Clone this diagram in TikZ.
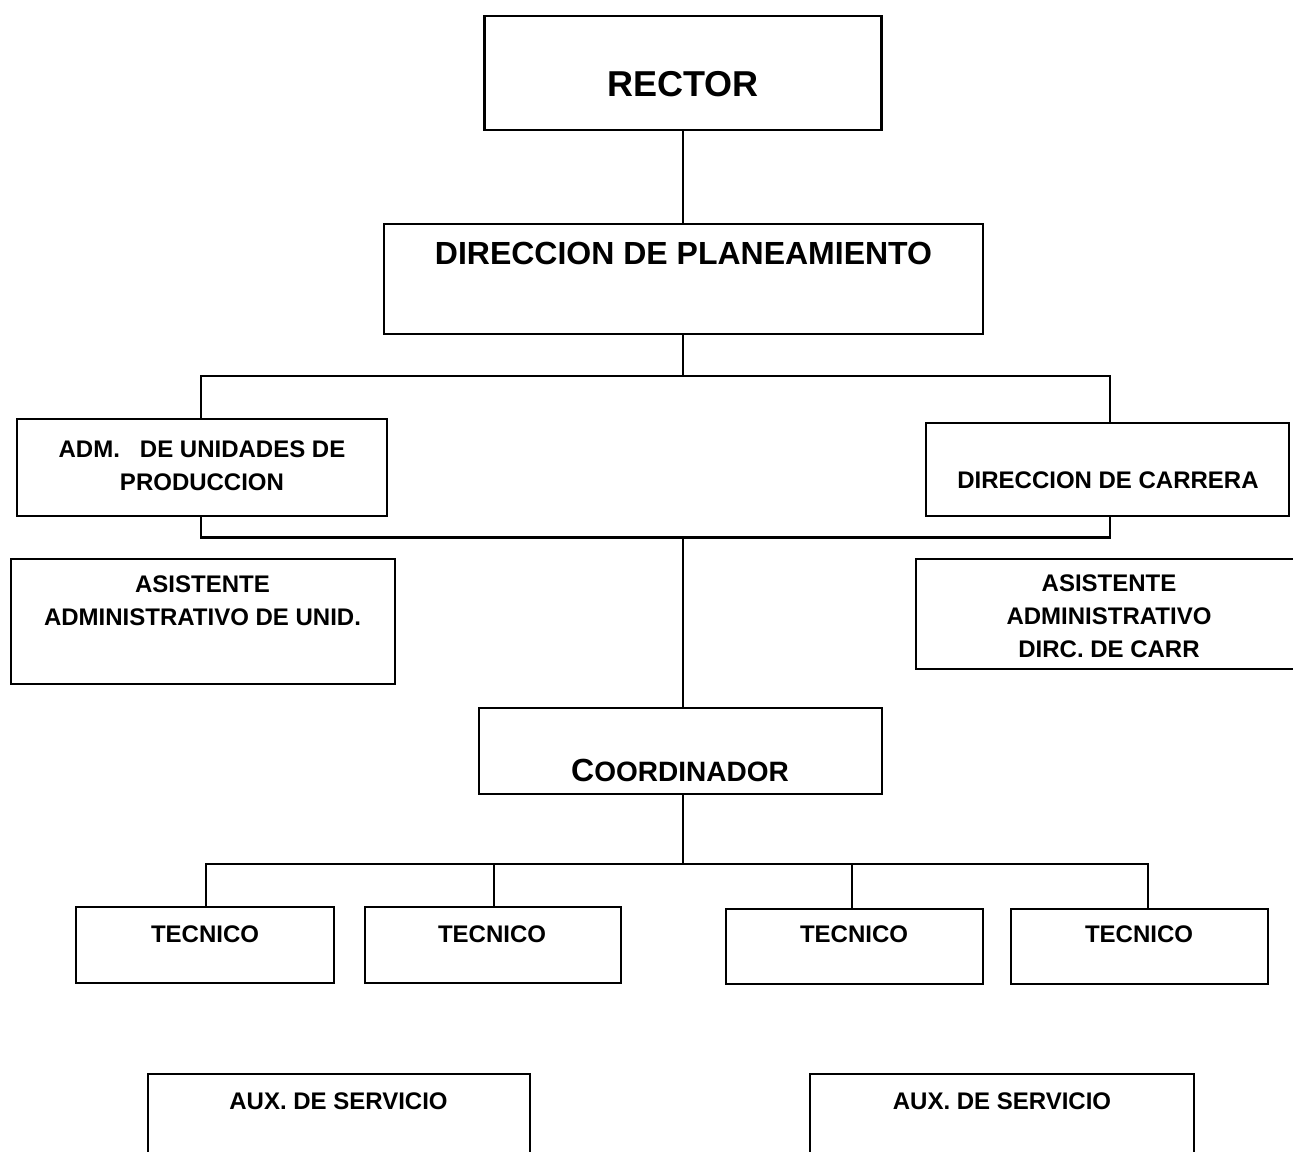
\documentclass[tikz,border=0pt]{standalone}
\usepackage{fontspec}
\setmainfont{Liberation Sans}
\usetikzlibrary{fit}
\tikzset{
  box/.style={draw, line width=1.35pt, inner sep=0pt, rectangle},
  link/.style={draw, line width=1.05pt},
  txt/.style={inner sep=0pt, align=center, anchor=base, font=\fontsize{12}{16.5}\selectfont\bfseries},
  bigtxt/.style={inner sep=0pt, anchor=base, font=\fontsize{18}{22}\selectfont\bfseries},
  midtxt/.style={inner sep=0pt, anchor=base, font=\fontsize{16}{20}\selectfont\bfseries},
}
\begin{document}
\begin{tikzpicture}[x=0.5pt,y=-0.5pt]
\useasboundingbox (0,0) rectangle (1293,1151);
\clip (0,0) rectangle (1293,1151);
% boxes
\node[box, fit={(484.5,16) (881.5,130)}] (rector) {};
\node[box, fit={(384,224) (983,334)}] (dirp) {};
\node[box, fit={(17,419) (387,516)}] (adm) {};
\node[box, fit={(926,423) (1289,516)}] (dirc) {};
\node[box, fit={(11,559) (395,684)}] (asisL) {};
\node[box, fit={(916,559) (1305,669)}] (asisR) {};
\node[box, fit={(479,708) (882,794)}] (coord) {};
\node[box, fit={(76,907) (334,983)}] (t1) {};
\node[box, fit={(365,907) (621,983)}] (t2) {};
\node[box, fit={(726,909) (983,984)}] (t3) {};
\node[box, fit={(1011,909) (1268,984)}] (t4) {};
\node[box, fit={(148,1074) (530,1170)}] (aux1) {};
\node[box, fit={(810,1074) (1194,1170)}] (aux2) {};
% texts (base anchor = baseline of the last line)
\node[bigtxt] (rectorT) at (683,96) {RECTOR};
\node[midtxt] (dirpT) at (683.5,264) {DIRECCION DE PLANEAMIENTO};
\node[txt] (admT) at (202,490) {ADM.\ \ \ DE UNIDADES DE\\PRODUCCION};
\node[txt] (dircT) at (1108,488) {DIRECCION DE CARRERA};
\node[txt] (asisLT) at (202.5,625) {ASISTENTE\\ADMINISTRATIVO DE UNID.};
\node[txt] (asisRT) at (1109,657) {ASISTENTE\\ADMINISTRATIVO\\DIRC. DE CARR};
\node[inner sep=0pt, anchor=base, font=\bfseries] (coordT) at (680,781) {\fontsize{16}{20}\selectfont C\fontsize{14}{18}\selectfont OORDINADOR};
\node[txt] (t1T) at (205,942) {TECNICO};
\node[txt] (t2T) at (492,942) {TECNICO};
\node[txt] (t3T) at (854,942) {TECNICO};
\node[txt] (t4T) at (1139,942) {TECNICO};
\node[txt] (aux1T) at (338.5,1109) {AUX. DE SERVICIO};
\node[txt] (aux2T) at (1002,1109) {AUX. DE SERVICIO};
% connector coordinates
\coordinate (busA) at (683,376);
\coordinate (busB) at (683,537.5);
\coordinate (busC) at (683,864);
\coordinate (dA1) at (201,376);
\coordinate (dA2) at (1110,376);
\coordinate (dB1) at (201,537.5);
\coordinate (dB2) at (1110,537.5);
\coordinate (d1) at (206,864);
\coordinate (d2) at (494,864);
\coordinate (d3) at (852,864);
\coordinate (d4) at (1148,864);
% connectors
\draw[link] (rector.south) -- (rector.south |- dirp.north);
\draw[link] (busA |- dirp.south) -- (busA);
\draw[link] (dA1 |- adm.north) -- (dA1) -- (dA2) -- (dA2 |- dirc.north);
\draw[link] (dB1 |- adm.south) -- (dB1) -- (dB2) -- (dB2 |- dirc.south);
\draw[link] (busB) -- (busB |- coord.north);
\draw[link] (busC |- coord.south) -- (busC);
\draw[link] (d1 |- t1.north) -- (d1) -- (d4) -- (d4 |- t4.north);
\draw[link] (d2) -- (d2 |- t2.north);
\draw[link] (d3) -- (d3 |- t3.north);
\end{tikzpicture}
\end{document}
